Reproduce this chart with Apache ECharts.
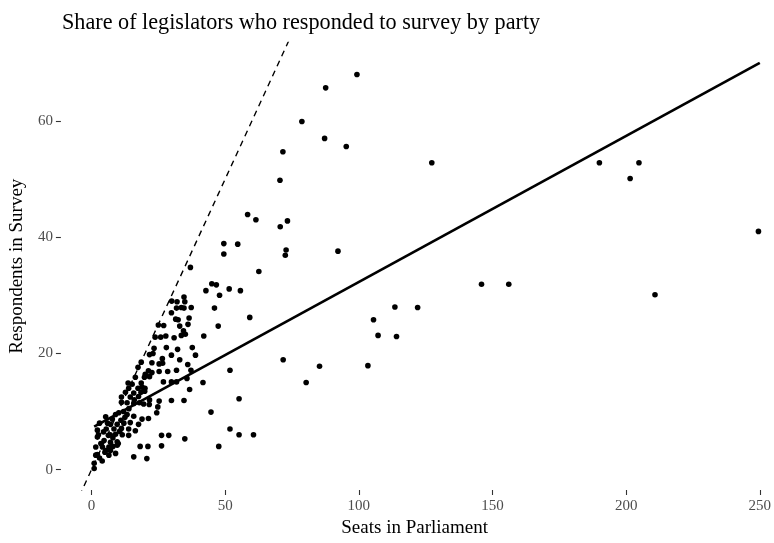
<!DOCTYPE html>
<html>
<head>
<meta charset="utf-8">
<script src="https://cdn.jsdelivr.net/npm/echarts@6/dist/echarts.min.js"></script>
<style>html,body{margin:0;padding:0;background:#fff}#c{width:774px;height:543px}</style>
</head>
<body>
<div id="c"></div>
<script>
const titleText = "Share of legislators who responded to survey by party";
const xName = "Seats in Parliament";
const yName = "Respondents in Survey";
const xTicks = [0, 50, 100, 150, 200, 250];
const yTicks = [0, 20, 40, 60];

const seats = [
 99.3,87.6,78.7,87.2,95.3,71.6,127.3,70.5,58.4,61.5,73.3,70.6,72.8,72.5,92.2,49.5,54.7,49.5,37.0,62.6,
 45.0,46.7,42.8,51.5,55.7,47.9,34.6,34.9,37.3,34.6,46.0,113.5,122.0,
 145.9,156.1,210.8,105.5,107.2,114.1,85.3,103.4,80.3,
 190.0,201.5,204.8,249.5,59.2,71.7,60.6,
 32.0,31.8,33.6,29.9,31.5,32.4,36.5,25.0,27.0,33.0,36.1,47.4,34.4,35.1,33.6,42.0,23.8,25.9,27.8,30.9,
 23.4,37.7,32.2,21.7,29.9,38.9,26.5,18.6,22.6,25.3,26.6,33.0,36.0,17.4,21.3,25.3,28.5,31.8,37.2,51.8,
 20.1,22.6,16.4,19.8,21.7,26.9,29.9,31.8,35.7,41.7,13.7,15.2,18.6,13.9,17.4,18.9,36.7,12.7,15.8,18.5,
 19.9,11.2,14.5,17.6,21.7,25.3,29.9,34.6,44.7,51.8,55.2,55.2,47.6,17.9,19.5,21.6,11.2,13.3,15.8,24.8,
 24.4,5.3,7.8,10.2,13.3,15.8,18.9,21.3,7.1,9.6,12.1,14.5,17.6,8.4,11.2,13.9,16.4,2.6,6.3,9.0,
 11.5,13.9,26.2,28.9,34.9,4.7,7.1,9.6,4.1,6.5,9.6,18.2,21.1,26.2,2.2,6.5,15.8,20.7,5.3,
 2.2,2.2,1.6,1.6,7.1,9.0,1.0,1.0,
 3.5,4.5,5.5,8.0,10.5,12.5,6.0,9.0,3.0,4.0,11.0,8.0,3.0,
 5.0,7.0,10.0,12.0,14.0,16.0,20.0,23.0,28.0,30.0
];
const respondents = [
 68.0,65.7,59.9,57.0,55.6,54.7,52.8,49.8,43.9,43.0,42.8,41.8,37.8,36.9,37.6,38.9,38.8,37.1,34.8,34.1,
 32.0,31.8,30.8,31.1,30.8,30.0,29.7,28.9,27.9,27.8,27.8,28.0,27.9,
 31.9,31.9,30.1,25.8,23.1,22.9,17.8,17.9,15.0,
 52.8,50.1,52.8,41.0,26.2,18.9,6.0,
 28.9,27.8,27.9,27.0,25.9,25.8,26.1,24.9,24.8,24.7,25.0,24.7,23.9,23.3,23.1,23.0,22.8,22.8,23.0,22.7,
 20.9,21.0,20.7,19.8,19.7,19.7,19.1,18.5,18.4,18.2,18.3,18.9,18.1,17.6,17.0,16.9,16.9,17.1,17.1,17.1,
 16.4,16.7,15.9,15.9,16.0,15.1,15.1,15.1,15.7,15.0,14.9,14.7,14.9,14.0,14.0,14.2,13.8,13.3,13.2,13.3,
 13.5,12.5,12.5,12.6,12.0,11.8,11.9,11.9,9.9,7.0,6.0,12.2,4.0,11.5,11.3,11.2,11.6,11.5,11.4,10.8,
 9.8,9.1,8.7,9.8,9.5,9.2,8.7,8.8,7.8,7.8,8.0,8.1,7.8,7.0,7.1,7.0,6.7,6.0,5.9,6.1,
 6.0,5.9,5.9,5.9,5.3,5.0,4.7,4.8,3.9,3.9,4.2,4.0,4.0,4.1,2.6,2.5,2.2,1.9,3.3,
 6.8,5.6,3.9,2.5,3.3,2.8,1.1,0.2,
 4.5,6.5,7.0,5.5,6.6,9.0,8.0,9.5,2.0,1.5,8.5,4.0,8.0,
 3.0,6.0,4.5,10.0,10.5,12.0,14.0,20.0,21.0,29.0
];

const fitSeats = [1, 250];
const fitResp = [7.4, 70.0];
const paritySeats = [-20, 90];
const parityResp = [-20, 90];

const pts = seats.map((s, i) => [s, respondents[i]]);
const fit = fitSeats.map((s, i) => [s, fitResp[i]]);
const parity = paritySeats.map((s, i) => [s, parityResp[i]]);

const FONT = '"Liberation Serif", "DejaVu Serif", serif';
const chart = echarts.init(document.getElementById('c'), null, {renderer: 'canvas'});
chart.setOption({
  animation: false,
  backgroundColor: '#ffffff',
  title: {
    text: titleText, left: 57, top: 7,
    textStyle: {fontFamily: FONT, fontSize: 22.2, fontWeight: 'normal', color: '#000'}
  },
  grid: {left: 58, right: 0, top: 42.5, bottom: 44.3},
  xAxis: {
    type: 'value', min: -11.45, max: 253.2,
    axisLine: {show: false, onZero: false},
    splitLine: {show: false},
    axisTick: {show: true, customValues: xTicks, length: 5, lineStyle: {color: '#333', width: 1.1}},
    axisLabel: {customValues: xTicks, color: '#4d4d4d', fontSize: 15, fontFamily: FONT, margin: 9},
    name: xName, nameLocation: 'middle', nameGap: 29,
    nameTextStyle: {fontFamily: FONT, fontSize: 19, color: '#000'}
  },
  yAxis: {
    type: 'value', min: -3.5, max: 73.5,
    axisLine: {show: false, onZero: false},
    splitLine: {show: false},
    axisTick: {show: true, customValues: yTicks, length: 5, lineStyle: {color: '#333', width: 1.1}},
    axisLabel: {customValues: yTicks, color: '#4d4d4d', fontSize: 15, fontFamily: FONT, margin: 8},
    name: yName, nameLocation: 'middle', nameGap: 23,
    nameTextStyle: {fontFamily: FONT, fontSize: 19, color: '#000'}
  },
  series: [
    {
      type: 'line', data: parity, symbol: 'none', clip: true, silent: true,
      lineStyle: {color: '#000', width: 1.4, type: [6, 5]}
    },
    {
      type: 'scatter', data: pts, symbol: 'circle', symbolSize: 5.6,
      itemStyle: {color: '#000', opacity: 1}
    },
    {
      type: 'line', data: fit, symbol: 'none', clip: true, silent: true,
      lineStyle: {color: '#000', width: 2.7}
    }
  ]
});
</script>
</body>
</html>
